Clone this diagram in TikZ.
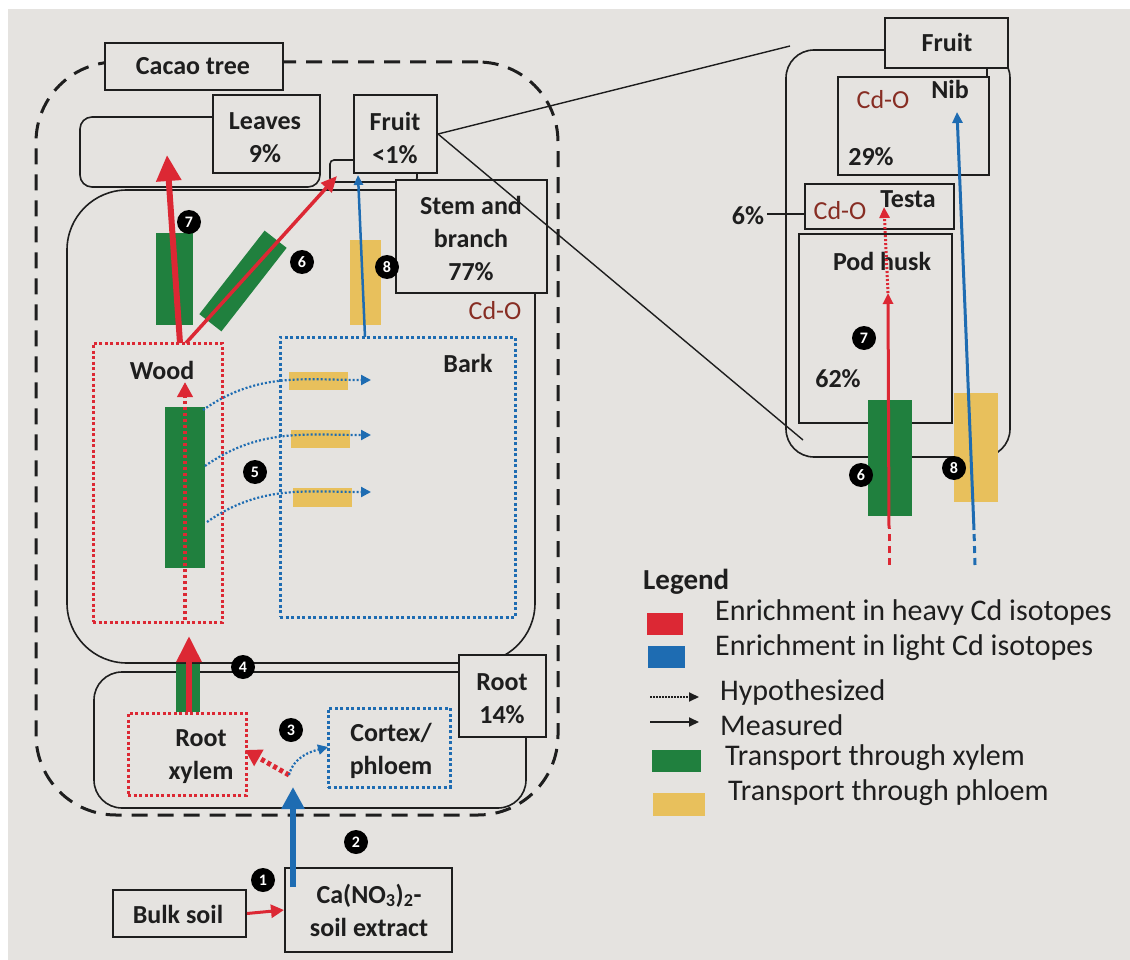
\documentclass[tikz,border=0pt]{standalone}
\usepackage{fontspec}
\setmainfont{Carlito}
\usetikzlibrary{arrows.meta,fit,calc}
\definecolor{pagebg}{RGB}{229,227,224}
\definecolor{cdred}{RGB}{220,40,52}
\definecolor{cdblue}{RGB}{30,108,178}
\definecolor{xgreen}{RGB}{32,128,62}
\definecolor{pyellow}{RGB}{232,192,92}
\definecolor{cdo}{RGB}{135,45,35}
\definecolor{ink}{RGB}{30,30,30}
\newcommand\labf{\fontsize{26}{33}\selectfont\bfseries}
\newcommand\legf{\fontsize{30}{34}\selectfont}
\newcommand\numf{\fontsize{16}{16}\selectfont\bfseries}
\begin{document}
\begin{tikzpicture}[x=1pt,y=-1pt,
  box/.style={draw=ink, line width=2pt, fill=pagebg, inner sep=0pt},
  region/.style={draw=ink, line width=1.6pt, rounded corners=#1, inner sep=0pt},
  txt/.style={font=\labf, inner sep=0pt, text=ink},
  mtxt/.style={font=\labf, inner sep=0pt, text=ink, align=center},
  cdotxt/.style={font=\fontsize{26}{30}\selectfont, text=cdo, inner sep=0pt},
  num/.style={circle, fill=black, text=white, font=\numf, minimum size=24pt, inner sep=0pt},
  xbar/.style={fill=xgreen, draw=none, inner sep=0pt},
  pbar/.style={fill=pyellow, draw=none, inner sep=0pt},
  redbig/.style={draw=cdred, line width=6pt, -{Triangle[width=24pt,length=26pt]}, fill=cdred},
  redmid/.style={draw=cdred, line width=3.5pt, -{Triangle[width=14pt,length=16pt]}},
  bluethin/.style={draw=cdblue, line width=2.5pt, -{Triangle[width=9pt,length=10pt]}},
  hypo/.style={dash pattern=on 2pt off 2pt},
  legtxt/.style={font=\legf, anchor=west, inner sep=0pt, text=ink}
]
% background
\fill[white] (0,0) rectangle (1130,960);
\fill[pagebg] (8,9) rectangle (1130,960);

% ---------- cacao tree ----------
\node[region=80pt, line width=3pt, dash pattern=on 16pt off 10pt, fit={(36,62) (558,815)}] (tree) {};
\node[box, fit={(105,43) (283,90)}] (cacao) {};
\node[txt] (cacaol) at (193,66) {Cacao tree};

% leaves region
\node[region=12pt, fit={(80,117) (320,187)}] (leafreg) {};
\node[box, fit={(213,95) (320,173)}] (leaves) {};
\node[mtxt] (leavesl) at (265,137.5) {Leaves\\9\%};
% fruit small region
\node[region=4pt, fit={(330,160) (417,182)}] (fruitreg) {};
\node[box, fit={(354,95) (437,173)}] (fruit) {};
\node[mtxt] (fruitl) at (395,137.5) {Fruit\\\textless1\%};

% stem region
\node[region=60pt, fit={(67,190) (535,663)}] (stemreg) {};
\node[box, fit={(396,180) (547,293)}] (stem) {};
\node[mtxt] (steml) at (471,238) {Stem and\\branch\\77\%};
\node[cdotxt] (cdo1) at (495,311) {Cd-O};

% root region
\node[region=28pt, fit={(94,672) (526,808)}] (rootreg) {};
\node[box, fit={(459,655) (546,737)}] (root) {};
\node[mtxt] (rootl) at (502,698.5) {Root\\14\%};

% wood and bark
\node[draw=cdred, line width=3pt, dash pattern=on 3pt off 2.5pt, inner sep=0pt, fit={(93,343) (222,622)}] (wood) {};
\node[txt] (woodlbl) at (162,370) {Wood};
\node[draw=cdblue, line width=3pt, dash pattern=on 3pt off 2.5pt, inner sep=0pt, fit={(280,337) (515,617)}] (bark) {};
\node[txt] (barklbl) at (468,363) {Bark};

% transport bars (stem)
\node[xbar, fit={(156,233) (193,325)}] (xyl7) {};
\node[xbar, minimum width=106pt, minimum height=28pt, rotate=52] (xyl6) at (243,281) {};
\node[pbar, fit={(350,240) (381,325)}] (phl8) {};
\node[xbar, fit={(165,407) (205,568)}] (xylw) {};
\node[pbar, fit={(289,372) (348,390)}] (phl1) {};
\node[pbar, fit={(291,430) (350,448)}] (phl2) {};
\node[pbar, fit={(293,488) (352,507)}] (phl3) {};
\node[xbar, fit={(176,664) (200,712)}] (xylr) {};

% root boxes
\node[draw=cdred, line width=3pt, dash pattern=on 3pt off 2.5pt, inner sep=0pt, fit={(128,713) (246,795)}] (rxyl) {};
\node[mtxt] (rxyllbl) at (201,756.5) {Root\\xylem};
\node[draw=cdblue, line width=3pt, dash pattern=on 3pt off 2.5pt, inner sep=0pt, fit={(328,708) (450,787)}] (cortex) {};
\node[mtxt] (cortexlbl) at (391,750.5) {Cortex/\\phloem};

% soil boxes
\node[box, fit={(113,890) (246,937)}] (bulk) {};
\node[txt] (bulkl) at (178,914) {Bulk soil};
\node[box, fit={(285,868) (452,952)}] (extract) {};
\node[mtxt] (extractl) at (369,910) {Ca(NO\textsubscript{3})\textsubscript{2}-\\soil extract};

% ---------- arrows in tree ----------
\coordinate (w7) at (180,343);
\coordinate (t7) at (167,155);
\coordinate (w6) at (186,343);
\coordinate (t6) at (337,176);
\coordinate (b8) at (365,337);
\coordinate (t8) at (358,175);
\draw[redbig] (w7) -- (t7);
\draw[redmid] (w6) -- (t6);
\draw[bluethin] (b8) -- (t8);

\coordinate (wb) at (185,620);
\coordinate (wt) at (185,382);
\draw[draw=cdred, line width=4pt, dash pattern=on 3pt off 3pt, -{Triangle[width=15pt,length=15pt]}] (wb) -- (wt);

\coordinate (s1) at (203,410); \coordinate (e1) at (371,380);
\coordinate (s2) at (205,466); \coordinate (e2) at (371,435);
\coordinate (s3) at (207,522); \coordinate (e3) at (371,492);
\draw[draw=cdblue, line width=2.2pt, hypo, -{Triangle[width=10pt,length=10pt]}] (s1) to[out=35,in=180] (e1);
\draw[draw=cdblue, line width=2.2pt, hypo, -{Triangle[width=10pt,length=10pt]}] (s2) to[out=35,in=180] (e2);
\draw[draw=cdblue, line width=2.2pt, hypo, -{Triangle[width=10pt,length=10pt]}] (s3) to[out=35,in=180] (e3);

\coordinate (rx) at (189,712);
\coordinate (rxt) at (189,636);
\draw[redbig] (rx) -- (rxt);

\coordinate (ex) at (293,887);
\coordinate (split) at (293,787);
\draw[draw=cdblue, line width=6pt, -{Triangle[width=22pt,length=22pt]}] (ex) -- (split);
\coordinate (sp) at (289,775);
\coordinate (rxe) at (245,750);
\coordinate (cxe) at (328,747);
\draw[draw=cdred, line width=5pt, dash pattern=on 4pt off 3pt, -{Triangle[width=18pt,length=16pt]}] (sp) -- (rxe);
\draw[draw=cdblue, line width=2.2pt, hypo, -{Triangle[width=10pt,length=10pt]}] (sp) to[out=75,in=195] (cxe);

\draw[draw=cdred, line width=3pt, -{Triangle[width=13pt,length=13pt]}] (bulk.east) -- (extract.west);

% numbers
\node[num] (n7) at (189,222) {7};
\node[num] (n6) at (302,262) {6};
\node[num] (n8) at (387,267) {8};
\node[num] (n5) at (255,472) {5};
\node[num] (n4) at (243,667) {4};
\node[num] (n3) at (291,730) {3};
\node[num] (n2) at (356,842) {2};
\node[num] (n1) at (263,880) {1};

% ---------- fruit detail ----------
\node[region=28pt, fit={(786,50) (1010,457)}] (fpanel) {};
\node[box, fit={(885,18) (1008,68)}] (fruitz) {};
\node[txt] (fruitzl) at (947,42) {Fruit};
\coordinate (fl1) at (987,68); \coordinate (fl2) at (987,77);
\draw[ink, line width=1.6pt] (fl1) -- (fl2);
\node[box, line width=2.5pt, fit={(838,77) (989,175)}] (nib) {};
\node[cdotxt] (cdonib) at (883,100) {Cd-O};
\node[txt] (niblbl) at (950,89) {Nib};
\node[txt] (nibpc) at (871,157) {29\%};
\node[box, line width=2.5pt, fit={(805,184) (954,229)}] (testa) {};
\node[cdotxt] (cdotesta) at (840,211) {Cd-O};
\node[txt] (testalbl) at (908,199) {Testa};
\node[txt] (testapc) at (748,216) {6\%};
\coordinate (tpe) at (767,214);
\draw[ink, line width=1.4pt] (tpe) -- (testa.west |- tpe);
\node[box, line width=2.5pt, fit={(799,234) (952,423)}] (pod) {};
\node[txt] (podlbl) at (882,261) {Pod husk};
\node[txt] (podpc) at (838,379) {62\%};

\node[xbar, fit={(868,400) (912,516)}] (xylf) {};
\node[pbar, fit={(954,393) (998,502)}] (phlf) {};

\coordinate (rb) at (889,565); \coordinate (rm) at (889,528);
\coordinate (rt) at (888,293); \coordinate (rtt) at (884,207);
\draw[cdred, line width=3pt, dash pattern=on 7pt off 5pt] (rb) -- (rm);
\draw[cdred, line width=3pt, -{Triangle[width=10pt,length=11pt]}] (rm) -- (rt);
\draw[cdred, line width=3pt, hypo, -{Triangle[width=10pt,length=11pt]}] (rt) -- (rtt);
\coordinate (bb) at (975,565); \coordinate (bm) at (974,530); \coordinate (bt) at (957,112);
\draw[cdblue, line width=3pt, dash pattern=on 7pt off 5pt] (bb) -- (bm);
\draw[cdblue, line width=3pt, -{Triangle[width=10pt,length=11pt]}] (bm) -- (bt);

\node[num] (r7) at (864,338) {7};
\node[num] (r6) at (861,475) {6};
\node[num] (r8) at (954,468) {8};

% zoom lines
\coordinate (zA) at (790,46);
\coordinate (zB) at (803,440);
\draw[ink, line width=1.4pt] (fruit.east) -- (zA);
\draw[ink, line width=1.4pt] (fruit.east) -- (zB);

% ---------- legend ----------
\node[font=\fontsize{29}{32}\selectfont\bfseries, anchor=west, inner sep=0pt, text=ink] (legt) at (643,582) {Legend};
\node[fill=cdred, minimum width=36pt, minimum height=22pt, inner sep=0pt] (lred) at (665,624) {};
\node[fill=cdblue, minimum width=37pt, minimum height=22pt, inner sep=0pt] (lblue) at (666,657) {};
\coordinate (lh1) at (650,697); \coordinate (lh2) at (699,697);
\coordinate (lm1) at (650,722); \coordinate (lm2) at (699,722);
\draw[ink, line width=2pt, dash pattern=on 1.5pt off 1.5pt, -{Triangle[width=9pt,length=10pt]}] (lh1) -- (lh2);
\draw[ink, line width=2pt, -{Triangle[width=9pt,length=10pt]}] (lm1) -- (lm2);
\node[xbar, minimum width=49pt, minimum height=22pt] (lgreen) at (676,761) {};
\node[pbar, minimum width=52pt, minimum height=23pt] (lyellow) at (679,804) {};
\node[legtxt] (l1) at (715,612) {Enrichment in heavy Cd isotopes};
\node[legtxt] (l2) at (715,648) {Enrichment in light Cd isotopes};
\node[legtxt] (l3) at (720,692) {Hypothesized};
\node[legtxt] (l4) at (720,725) {Measured};
\node[legtxt] (l5) at (725,758) {Transport through xylem};
\node[legtxt] (l6) at (728,793) {Transport through phloem};
\end{tikzpicture}
\end{document}
